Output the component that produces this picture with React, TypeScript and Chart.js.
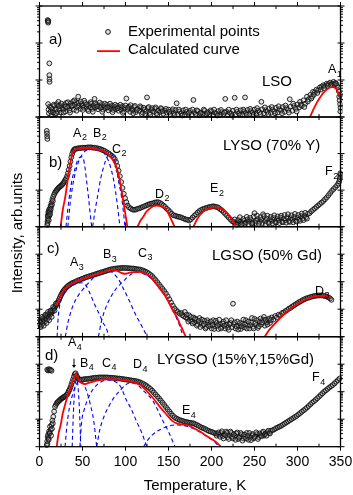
import React, { useEffect, useRef } from "react";
import { Chart, registerables } from "chart.js";
Chart.register(...registerables);

type P = [number, number];

// ---------------- data (x = temperature K, y = intensity in decade units of each panel) ----------------
const xTickLabels = [0, 50, 100, 150, 200, 250, 300, 350];

const expA: P[] = [
  [9.5, 2.62], [9.8, 2.58], [10.1, 2.55], [10.3, 2.6], [11.4, 1.45], [11.5, 1.13], [11.6, 1.02], [11.7, 0.95],
  [10, 0.35], [10.5, 0.2], [11, 0.1], [12, 0.28], [13, 0.15], [14, 0.05], [15, 0.22], [16, 0.12], [17, 0.3], [18, 0.08],
  [19, 0.2], [20, 0.35], [21, 0.14], [22, 0.41], [23, 0.22], [24, 0.3], [25, 0.12], [26, 0.27], [27.5, 0.2], [29, 0.33],
  [30, 0.15], [31, 0.38], [32.5, 0.25], [34, 0.3], [35, 0.18], [36, 0.36], [37.5, 0.28], [39, 0.42], [40, 0.2], [41, 0.33],
  [42.5, 0.4], [44, 0.26], [45, 0.55], [46, 0.3], [47.5, 0.22], [49, 0.36], [50, 0.3], [51.5, 0.25], [53, 0.38], [54.5, 0.28],
  [56, 0.2], [57.5, 0.33], [59, 0.26], [60, 0.36], [61.5, 0.22], [63, 0.3], [64, 0.49], [65, 0.26], [66.5, 0.34], [68, 0.21],
  [69.5, 0.3], [71, 0.25], [72.5, 0.35], [74, 0.2], [75.5, 0.29], [77, 0.24], [78.5, 0.33], [80, 0.18], [81.5, 0.28], [83, 0.22],
  [84.5, 0.31], [86, 0.19], [87.5, 0.27], [89, 0.21], [90.5, 0.3], [92, 0.17], [93.5, 0.26], [95, 0.2], [96.5, 0.29], [98, 0.15],
  [99.5, 0.24], [101, 0.5], [102.5, 0.2], [104, 0.28], [105.5, 0.14], [107, 0.23], [108.5, 0.18], [110, 0.27], [112, 0.13],
  [114, 0.22], [116, 0.17], [118, 0.26], [120, 0.12], [122, 0.2], [124, 0.16], [125, 0.53], [126, 0.24], [128, 0.11], [130, 0.19],
  [132, 0.15], [134, 0.23], [136, 0.1], [138, 0.18], [140, 0.13], [142, 0.22], [144, 0.09], [146, 0.17], [148, 0.12], [150, 0.2],
  [152, 0.08], [154, 0.16], [156, 0.11], [158, 0.19], [159.5, 0.37], [161, 0.07], [163, 0.15], [165, 0.1], [167, 0.18], [169, 0.06],
  [171, 0.14], [173, 0.09], [175, 0.17], [177, 0.07], [179, 0.46], [180, 0.13], [182, 0.08], [184, 0.16], [186, 0.05], [188, 0.12],
  [190, 0.09], [192, 0.17], [194, 0.06], [196, 0.13], [198, 0.08], [200, 0.15], [202, 0.05], [204, 0.12], [206, 0.09], [208, 0.16],
  [210, 0.06], [212, 0.13], [214, 0.08], [216, 0.49], [217, 0.15], [219, 0.06], [221, 0.12], [223, 0.09], [225, 0.17], [227, 0.52],
  [228, 0.07], [230, 0.14], [232, 0.1], [234, 0.18], [236, 0.07], [238, 0.15], [239, 0.53], [240, 0.11], [242, 0.19], [244, 0.08],
  [246, 0.16], [248, 0.12], [250, 0.2], [252, 0.09], [254, 0.17], [256, 0.13], [258, 0.41], [259, 0.21], [261, 0.1], [263, 0.18],
  [265, 0.14], [267, 0.23], [269, 0.11], [271, 0.2], [273, 0.15], [275, 0.25], [277, 0.12], [279, 0.21], [281, 0.17], [283, 0.27],
  [285, 0.14], [287, 0.24], [289, 0.19], [291, 0.48], [292, 0.28], [294, 0.17], [296, 0.3], [298, 0.22], [300, 0.34], [302, 0.26],
  [303, 0.41], [305, 0.3], [307, 0.45], [309, 0.36], [311, 0.55], [313, 0.48], [315, 0.6], [317, 0.55], [318, 0.68], [320, 0.66],
  [322, 0.74], [324, 0.72], [326, 0.8], [328, 0.82], [330, 0.86], [332, 0.84], [334, 0.9], [336, 0.89], [338, 0.93], [340, 0.9],
  [342, 0.95], [344, 0.92], [346, 0.85], [347, 0.8], [348, 0.7], [348.5, 0.55], [349, 0.45], [349.5, 0.35], [350, 0.25],
  [349.8, 0.15], [350, 0.6],
];
const expAExtra: P[] = [
  [13.5, 0.25], [16.5, 0.33], [19.5, 0.1], [22.5, 0.3], [25.5, 0.36], [28, 0.12], [30.5, 0.28], [33, 0.4], [35.5, 0.12],
  [38, 0.31], [40.5, 0.45], [43, 0.17], [45.5, 0.38], [48, 0.42], [50.5, 0.19], [52, 0.44], [55, 0.34], [57, 0.16],
  [59.5, 0.4], [62, 0.14], [64.5, 0.37], [67, 0.29], [70, 0.39], [73, 0.14], [76, 0.36], [79, 0.26], [82, 0.36], [85, 0.13],
  [88, 0.33], [91, 0.24], [94, 0.33], [97, 0.11], [100, 0.31], [103, 0.25], [106, 0.32], [109, 0.1], [111, 0.3], [113, 0.19],
  [117, 0.29], [119, 0.08], [121, 0.25], [123, 0.08], [127, 0.27], [129, 0.07], [131, 0.24], [135, 0.26], [137, 0.06],
  [141, 0.24], [143, 0.16], [147, 0.22], [151, 0.14], [155, 0.21], [157, 0.05], [162, 0.2], [166, 0.04], [170, 0.2],
  [174, 0.12], [178, 0.2], [183, 0.18], [187, 0.1], [191, 0.2], [195, 0.1], [199, 0.18], [203, 0.2], [207, 0.04],
  [211, 0.19], [215, 0.12], [220, 0.2], [224, 0.04], [229, 0.2], [233, 0.05], [237, 0.2], [241, 0.06], [245, 0.22],
  [249, 0.06], [253, 0.24], [257, 0.08], [262, 0.26], [266, 0.08], [270, 0.27], [274, 0.1], [278, 0.29], [282, 0.1],
  [286, 0.31], [290, 0.12], [295, 0.36], [299, 0.15], [304, 0.33], [308, 0.27], [312, 0.42], [316, 0.5], [319, 0.6],
  [323, 0.65], [327, 0.74], [331, 0.78], [335, 0.84], [339, 0.86], [343, 0.88], [345, 0.9],
];
const calcA1: P[] = [
  [314.5, 0], [318, 0.18], [322, 0.37], [326, 0.52], [330, 0.65], [334, 0.74], [338, 0.8], [341, 0.81], [344, 0.78],
  [347, 0.68], [349.5, 0.55],
];

const expB: P[] = [
  [8.5, 2.62], [8.7, 2.55], [8.9, 2.47], [9.1, 2.4],
  [9, 0.05], [9.3, 0.15], [9.6, 0.3], [9.9, 0.22], [10.2, 0.4], [10.5, 0.35], [11, 0.46], [11.5, 0.3], [12, 0.5], [12.5, 0.42],
  [13, 0.58], [13.5, 0.55], [14, 0.66], [15, 0.75], [16, 0.82], [17, 0.88], [18, 0.93], [19, 0.97], [20, 1.0], [21, 1.03],
  [22, 1.06], [23, 1.08], [24, 1.1], [25, 1.12], [26, 1.14], [27, 1.17], [28, 1.2], [29, 1.24], [30, 1.28], [31, 1.32],
  [32, 1.38], [33, 1.46], [34, 1.56], [35, 1.66], [36, 1.78], [37, 1.9], [38, 1.99], [39, 2.06], [40, 2.1], [41, 2.12],
  [42, 2.13], [44, 2.14], [46, 2.15], [48, 2.15], [50, 2.16], [52, 2.16], [54, 2.16], [56, 2.17], [58, 2.17], [60, 2.17],
  [62, 2.16], [64, 2.16], [66, 2.15], [68, 2.14], [70, 2.13], [72, 2.11], [74, 2.09], [76, 2.07], [78, 2.04], [80, 2.01],
  [82, 1.98], [84, 1.94], [86, 1.9], [87.5, 1.85], [89, 1.77], [90.5, 1.66], [92, 1.53], [93.5, 1.38], [95, 1.22], [96.5, 1.06],
  [98, 0.9], [99.5, 0.78], [101, 0.67], [102.5, 0.58], [104, 0.53], [106, 0.5], [108, 0.47], [110, 0.46], [112, 0.47],
  [114, 0.49], [116, 0.5], [118, 0.52], [120, 0.54], [122, 0.56], [124, 0.58], [126, 0.6], [128, 0.62], [130, 0.63],
  [132, 0.64], [134, 0.66], [136, 0.67], [138, 0.67], [140, 0.65], [142, 0.62], [144, 0.58], [146, 0.54], [148, 0.49],
  [150, 0.45], [152, 0.4], [154, 0.35], [156, 0.31], [158, 0.3], [160, 0.28], [162, 0.27], [164, 0.26], [166, 0.24],
  [168, 0.22], [170, 0.2], [172, 0.19], [174, 0.17], [176, 0.2], [178, 0.25], [180, 0.3], [182, 0.34], [184, 0.39],
  [186, 0.43], [188, 0.46], [190, 0.48], [192, 0.5], [194, 0.51], [196, 0.53], [198, 0.54], [200, 0.55], [202, 0.56],
  [204, 0.55], [206, 0.54], [208, 0.52], [210, 0.48], [212, 0.45], [214, 0.4], [216, 0.35], [218, 0.3], [220, 0.25],
  [222, 0.2], [224, 0.15], [226, 0.13], [228, 0.11], [230, 0.12], [232, 0.09], [234, 0.14], [236, 0.1], [238, 0.16],
  [240, 0.12], [242, 0.2], [244, 0.14], [246, 0.18], [248, 0.11], [250, 0.37], [252, 0.16], [254, 0.21], [256, 0.13],
  [258, 0.19], [260, 0.34], [262, 0.15], [264, 0.22], [266, 0.12], [268, 0.2], [270, 0.16], [272, 0.24], [274, 0.13],
  [276, 0.21], [278, 0.17], [280, 0.25], [282, 0.14], [284, 0.22], [286, 0.18], [288, 0.26], [290, 0.15], [292, 0.23],
  [294, 0.19], [296, 0.27], [298, 0.16], [300, 0.24], [302, 0.2], [304, 0.29], [306, 0.22], [308, 0.3], [310, 0.26],
  [312, 0.35], [314, 0.37], [316, 0.42], [318, 0.46], [320, 0.5], [322, 0.54], [324, 0.58], [326, 0.62], [328, 0.66],
  [330, 0.7], [332, 0.75], [334, 0.8], [336, 0.86], [338, 0.92], [340, 0.98], [342, 1.03], [344, 1.08], [346, 1.13],
  [347.5, 1.18], [348.5, 1.24], [349.2, 1.3], [349.6, 1.36], [350, 1.42], [349.8, 1.46],
];
const expBExtra: P[] = [
  [227, 0.2], [229, 0.05], [231, 0.18], [233, 0.26], [235, 0.06], [237, 0.21], [239, 0.08], [241, 0.27], [243, 0.07],
  [245, 0.24], [247, 0.09], [249, 0.28], [251, 0.1], [253, 0.3], [255, 0.08], [257, 0.26], [259, 0.1], [261, 0.29],
  [263, 0.07], [265, 0.3], [267, 0.1], [269, 0.27], [271, 0.09], [273, 0.31], [275, 0.11], [277, 0.28], [279, 0.1],
  [281, 0.3], [283, 0.12], [285, 0.32], [287, 0.11], [289, 0.34], [291, 0.13], [293, 0.31], [295, 0.12], [297, 0.35],
  [299, 0.14], [301, 0.32], [303, 0.16], [305, 0.36], [307, 0.18], [309, 0.38], [311, 0.22],
  [9.4, 0.1], [10, 0.28], [10.8, 0.18], [11.3, 0.4], [12.3, 0.34], [13.2, 0.48], [14.5, 0.6], [15.5, 0.7],
];
const calcB_ABC: P[] = [
  [24.6, 0], [27, 0.45], [29.7, 0.78], [32, 1.15], [34.7, 1.59], [36.5, 1.82], [38.2, 1.99], [41.3, 2.1], [45, 2.13],
  [50, 2.14], [58, 2.14], [66, 2.12], [74, 2.07], [80, 1.98], [86, 1.8], [90, 1.59], [93, 1.3], [95.6, 0.95], [97.5, 0.68],
  [99.4, 0.41], [101, 0.18], [102, 0],
];
const calcB_D: P[] = [
  [114, 0], [117, 0.15], [120.7, 0.27], [124, 0.4], [128.5, 0.5], [132, 0.56], [136.5, 0.58], [141, 0.56], [146, 0.5],
  [149, 0.4], [151.7, 0.27], [154.5, 0.13], [157, 0],
];
const calcB_E: P[] = [
  [179, 0], [182.5, 0.17], [186.6, 0.32], [190, 0.4], [194.4, 0.47], [199, 0.51], [204, 0.53], [209, 0.51], [213.7, 0.46],
  [218, 0.38], [221.5, 0.27], [225, 0.14], [228.5, 0],
];
const compB_A: P[] = [
  [30.8, 0], [33, 0.5], [35.5, 0.95], [38, 1.3], [41.3, 1.59], [44, 1.8], [47, 1.9], [49, 1.91], [51, 1.86], [53, 1.6],
  [54.9, 1.22], [57, 0.8], [58.7, 0.41], [60.7, 0],
];
const compB_B: P[] = [
  [33, 0], [36, 0.7], [40, 1.3], [45, 1.75], [51, 2.02], [57, 2.12], [63, 2.14], [69, 2.12], [75, 2.02], [81, 1.75],
  [86, 1.3], [90, 0.7], [93.5, 0],
];
const compB_C: P[] = [
  [61.8, 0], [65, 0.5], [68.4, 0.95], [71, 1.3], [74, 1.59], [77, 1.82], [80, 1.97], [83, 2.0], [86.5, 1.88], [89.8, 1.59],
  [92.5, 1.2], [95.6, 0.78], [97.5, 0.42], [99.4, 0],
];

const expC: P[] = [
  [0.3, 0.45], [1, 0.6], [1.8, 0.4], [2.5, 0.55], [3.2, 0.65], [4, 0.48], [4.8, 0.62], [5.5, 0.72], [6.2, 0.55], [7, 0.68],
  [7.8, 0.78], [8.5, 0.62], [9.2, 0.75], [10, 0.82], [10.8, 0.7], [11.5, 0.85], [12.3, 0.8], [13, 0.9], [13.8, 0.86],
  [14.5, 0.95], [15.3, 0.92], [16, 1.0], [17, 1.03], [18, 1.08], [19, 1.13], [20, 1.18], [21, 1.24], [22, 1.3], [23, 1.37],
  [24, 1.44], [25, 1.51], [26, 1.57], [27, 1.62], [28, 1.67], [29, 1.71], [30, 1.75], [31.5, 1.8], [33, 1.84], [34.5, 1.88],
  [36, 1.91], [37.5, 1.94], [39, 1.96], [41, 1.99], [43, 2.02], [45, 2.05], [47, 2.07], [49, 2.1], [51, 2.12], [53, 2.15],
  [55, 2.17], [57, 2.19], [59, 2.21], [61, 2.23], [63, 2.25], [65, 2.27], [67, 2.29], [69, 2.31], [71, 2.33], [73, 2.35],
  [75, 2.37], [77, 2.39], [79, 2.41], [81, 2.43], [83, 2.45], [85, 2.46], [87, 2.47], [89, 2.48], [91, 2.49], [93, 2.49],
  [95, 2.5], [97, 2.5], [99, 2.5], [101, 2.5], [103, 2.49], [105, 2.49], [107, 2.48], [109, 2.48], [111, 2.47], [113, 2.46],
  [115, 2.45], [117, 2.44], [119, 2.42], [121, 2.4], [123, 2.37], [125, 2.34], [127, 2.3], [129, 2.25], [131, 2.2],
  [133, 2.13], [135, 2.06], [137, 1.98], [139, 1.9], [141, 1.82], [143, 1.74], [145, 1.66], [147, 1.57], [149, 1.47],
  [151, 1.36], [153, 1.24], [155, 1.13], [157, 1.03], [159, 0.96], [161, 0.9], [163, 0.84], [165, 0.86], [166, 0.78],
  [168, 0.74], [169, 0.9], [170, 0.7], [172, 0.66], [174, 0.78], [175, 0.6], [177, 0.55], [179, 0.7], [180, 0.52],
  [182, 0.62], [184, 0.45], [186, 0.68], [188, 0.5], [190, 0.4], [192, 0.58], [194, 0.35], [196, 0.52], [198, 0.44],
  [200, 0.3], [202, 0.6], [204, 0.38], [206, 0.5], [208, 0.28], [210, 0.45], [212, 0.36], [214, 0.55], [216, 0.3],
  [218, 0.42], [220, 0.25], [222, 0.5], [224, 0.35], [225, 1.2], [226, 0.45], [228, 0.3], [230, 0.55], [232, 0.38],
  [234, 0.28], [236, 0.48], [238, 0.34], [240, 0.6], [242, 0.4], [244, 0.3], [246, 0.52], [248, 0.36], [250, 0.65],
  [252, 0.42], [254, 0.32], [256, 0.55], [258, 0.45], [260, 0.62], [262, 0.4], [264, 0.52], [266, 0.6], [268, 0.5],
  [270, 0.7], [272, 0.62], [274, 0.75], [276, 0.7], [278, 0.8], [280, 0.78], [282, 0.86], [284, 0.88], [286, 0.93],
  [288, 0.97], [290, 1.02], [292, 1.05], [294, 1.1], [296, 1.14], [298, 1.18], [300, 1.22], [302, 1.26], [304, 1.29],
  [306, 1.33], [308, 1.36], [310, 1.39], [312, 1.41], [314, 1.43], [316, 1.45], [318, 1.47], [320, 1.48], [322, 1.49],
  [324, 1.5], [326, 1.5], [328, 1.5], [330, 1.49], [332, 1.48], [334, 1.46], [336, 1.43], [338, 1.39], [339.5, 1.34],
];
const expCExtra: P[] = [
  [171, 0.8], [173, 0.55], [176, 0.72], [178, 0.48], [181, 0.66], [183, 0.4], [185, 0.58], [187, 0.35], [189, 0.62],
  [191, 0.46], [193, 0.3], [195, 0.6], [197, 0.38], [199, 0.55], [201, 0.42], [203, 0.28], [205, 0.58], [207, 0.4],
  [209, 0.62], [211, 0.3], [213, 0.48], [215, 0.4], [217, 0.6], [219, 0.33], [221, 0.45], [223, 0.6], [227, 0.52],
  [229, 0.38], [231, 0.26], [233, 0.5], [235, 0.38], [237, 0.62], [239, 0.45], [241, 0.3], [243, 0.55], [245, 0.42],
  [247, 0.68], [249, 0.3], [251, 0.5], [253, 0.6], [255, 0.38], [257, 0.66], [259, 0.52], [261, 0.72], [263, 0.62],
  [265, 0.44], [267, 0.66], [269, 0.6],
  [1.5, 0.35], [3, 0.72], [5, 0.4], [6.8, 0.8], [8.2, 0.5], [9.8, 0.9], [11.2, 0.6], [12.8, 0.95], [14.2, 0.72],
  [15.8, 1.08], [17.5, 0.95], [19, 1.2],
];
const calcC_ABC: P[] = [
  [20, 1.15], [24, 1.45], [28, 1.68], [31.6, 1.79], [36, 1.9], [42, 1.99], [47, 2.06], [55, 2.15], [62, 2.22], [70, 2.3],
  [78, 2.38], [84, 2.43], [90, 2.4], [95, 2.32], [99, 2.29], [104, 2.32], [110, 2.35], [116, 2.36], [122, 2.3],
  [128.5, 2.2], [134, 2.0], [140, 1.75], [148, 1.4], [151.7, 1.17], [155, 0.95], [159.5, 0.73], [163, 0.48],
  [166.5, 0.25], [170, 0],
];
const calcC_D: P[] = [
  [262, 0], [266, 0.2], [270, 0.35], [276, 0.55], [283, 0.78], [291, 1.0], [300, 1.2], [311, 1.37], [320, 1.46],
  [328, 1.49], [335, 1.46], [340, 1.41],
];
const compC_A: P[] = [
  [20.5, 0], [21.5, 0.6], [23, 1.05], [26, 1.42], [30, 1.66], [35, 1.82], [41, 1.92], [48, 1.96], [54, 1.86], [59, 1.55],
  [64, 1.18], [70, 0.79], [74, 0.5], [77.7, 0.3], [81, 0],
];
const compC_B: P[] = [
  [30, 0], [33, 0.5], [38, 1.05], [44, 1.45], [50, 1.7], [56, 1.92], [63, 2.15], [70, 2.3], [78, 2.38], [85, 2.33],
  [92, 2.08], [98, 1.72], [105, 1.27], [111, 0.85], [117, 0.5], [122, 0.2], [125.5, 0],
];
const compC_C: P[] = [
  [68.5, 0], [72, 0.55], [77, 1.05], [83, 1.45], [90, 1.78], [97, 2.0], [105, 2.24], [113, 2.35], [120, 2.3],
  [128, 2.17], [134, 1.98], [140, 1.74], [148, 1.38], [154, 1.05], [159, 0.7], [163, 0.4], [167, 0],
];

const expD: P[] = [
  [9, 2.8], [10, 2.77], [11, 2.82], [12, 2.78], [13, 2.8], [14, 2.76],
  [8.4, 0.06], [9, 0.2], [9.5, 0.35], [10, 0.43], [10.5, 0.3], [11, 0.55], [11.5, 0.48], [12.2, 0.73], [13, 0.62],
  [14, 0.79], [15, 0.95], [16, 1.09], [17, 1.28], [18, 1.45], [19, 1.52], [20, 1.58], [21, 1.62], [22, 1.64], [23, 1.68],
  [24, 1.7], [25, 1.74], [26, 1.76], [27, 1.78], [28, 1.8], [29, 1.82], [30, 1.84], [31, 1.87], [32, 1.9], [33, 1.95],
  [34, 2.02], [35, 2.08], [36, 2.16], [37, 2.25], [38, 2.35], [39, 2.45], [40, 2.55], [41, 2.64], [42, 2.67], [43, 2.58],
  [44, 2.52], [45, 2.48], [46, 2.45], [47, 2.44], [49, 2.44], [51, 2.45], [53, 2.46], [55, 2.46], [57, 2.47], [59, 2.48],
  [61, 2.49], [63, 2.5], [65, 2.51], [67, 2.51], [69, 2.52], [71, 2.52], [73, 2.52], [75, 2.52], [77, 2.52], [79, 2.52],
  [81, 2.51], [83, 2.51], [85, 2.5], [87, 2.5], [89, 2.49], [91, 2.48], [93, 2.48], [95, 2.47], [97, 2.46], [99, 2.45],
  [101, 2.44], [103, 2.43], [105, 2.42], [107, 2.41], [109, 2.4], [111, 2.39], [113, 2.38], [115, 2.36], [117, 2.34],
  [119, 2.31], [121, 2.28], [123, 2.24], [125, 2.2], [127, 2.15], [129, 2.1], [131, 2.04], [133, 1.97], [135, 1.9],
  [137, 1.83], [139, 1.76], [141, 1.68], [143, 1.6], [145, 1.52], [147, 1.44], [149, 1.36], [151, 1.28], [153, 1.2],
  [155, 1.13], [157, 1.07], [159, 1.03], [161, 1.0], [163, 0.97], [165, 0.95], [167, 0.93], [169, 0.91], [171, 0.9],
  [173, 0.88], [175, 0.87], [177, 0.86], [179, 0.85], [181, 0.82], [183, 0.79], [185, 0.76], [187, 0.72], [189, 0.69],
  [191, 0.67], [193, 0.64], [195, 0.6], [197, 0.57], [199, 0.55], [201, 0.53], [203, 0.5], [205, 0.48], [207, 0.46],
  [209, 0.44], [211, 0.5], [213, 0.38], [215, 0.46], [217, 0.55], [219, 0.35], [221, 0.42], [223, 0.5], [225, 0.3],
  [227, 0.4], [229, 0.48], [231, 0.28], [233, 0.38], [235, 0.45], [237, 0.3], [239, 0.36], [241, 0.5], [243, 0.25],
  [245, 0.33], [247, 0.42], [249, 0.3], [251, 0.38], [253, 0.46], [255, 0.35], [257, 0.42], [259, 0.5], [261, 0.4],
  [263, 0.48], [265, 0.53], [267, 0.5], [269, 0.58], [271, 0.6], [273, 0.63], [275, 0.67], [277, 0.7], [279, 0.73],
  [281, 0.76], [283, 0.8], [285, 0.84], [287, 0.88], [289, 0.92], [291, 0.96], [293, 1.0], [295, 1.04], [297, 1.08],
  [299, 1.12], [301, 1.17], [303, 1.22], [305, 1.27], [307, 1.32], [309, 1.37], [311, 1.42], [313, 1.48], [315, 1.54],
  [317, 1.6], [319, 1.65], [321, 1.7], [323, 1.76], [325, 1.82], [327, 1.88], [329, 1.94], [331, 2.0], [333, 2.05],
  [335, 2.1], [337, 2.15], [339, 2.2], [341, 2.24], [343, 2.3], [345, 2.36], [347, 2.42], [349, 2.48],
];
const expDExtra: P[] = [
  [206, 0.4], [208, 0.52], [210, 0.36], [212, 0.56], [214, 0.3], [216, 0.42], [218, 0.5], [220, 0.28], [222, 0.55],
  [224, 0.36], [226, 0.46], [228, 0.25], [230, 0.52], [232, 0.33], [234, 0.5], [236, 0.22], [238, 0.44], [240, 0.3],
  [242, 0.4], [244, 0.5], [246, 0.24], [248, 0.46], [250, 0.35], [252, 0.52], [254, 0.28], [256, 0.48], [258, 0.38],
  [260, 0.55], [262, 0.45], [264, 0.4], [266, 0.58], [268, 0.48],
  [9.2, 0.1], [10.8, 0.25], [12, 0.5], [13.5, 0.4], [14.5, 0.65], [15.5, 0.85],
];
const calcD: P[] = [
  [20, 0], [22, 0.45], [24.6, 0.79], [27, 1.2], [29.7, 1.52], [33, 1.88], [37.4, 2.25], [40, 2.48], [42.4, 2.64],
  [44, 2.56], [46, 2.4], [50, 2.3], [53, 2.28], [57, 2.32], [62.6, 2.37], [70, 2.42], [82, 2.46], [92, 2.44], [101.4, 2.4],
  [110, 2.33], [117, 2.25], [124, 2.05], [132, 1.77], [140, 1.45], [148, 1.16], [154, 0.95], [159.5, 0.85], [165, 0.81],
  [171, 0.79], [178, 0.7], [186.6, 0.55], [194, 0.4], [202, 0.24], [207, 0.12], [211, 0],
];
const compD_A: P[] = [[38, 0], [39.5, 1.3], [41, 2.1], [43, 2.45], [45, 2.1], [46.5, 1.3], [48, 0]];
const compD_B: P[] = [
  [29.7, 0], [32, 0.8], [35, 1.45], [39, 1.95], [43, 2.28], [47, 2.38], [51, 2.3], [55, 2.0], [59, 1.55], [63, 0.95],
  [66.5, 0],
];
const compD_C: P[] = [
  [47, 0], [48, 0.5], [49, 0.91], [52, 1.35], [55, 1.64], [60, 1.98], [66.5, 2.24], [73, 2.38], [80, 2.43], [87, 2.38],
  [94, 2.2], [101, 1.7], [107, 1.35], [113, 0.91], [119, 0.5], [124.7, 0],
];
const compD_D: P[] = [
  [66.5, 0], [70, 0.6], [75, 1.1], [82, 1.55], [88, 1.85], [94, 2.05], [100, 2.25], [106, 2.32], [114, 2.25], [122, 2.0],
  [128, 1.82], [132.4, 1.64], [138, 1.3], [144, 0.91], [150, 0.55], [157.5, 0],
];
const compD_E: P[] = [
  [121, 0], [126, 0.25], [132, 0.45], [140, 0.62], [150, 0.75], [158, 0.79], [165, 0.78], [172, 0.74], [180, 0.64],
  [188, 0.5], [196, 0.34], [204, 0.16], [209, 0],
];

// ---------------- layout / styles ----------------
const W = 353;
const H = 495;
const PLOT_LEFT = 39.5;
const PLOT_RIGHT = 340.5;
const FONT = '"Liberation Sans", Arial, sans-serif';

type Lab = { t: string; s?: string; x: number; y: number; big?: boolean };

const panels = [
  {
    top: 6, bottom: 117, ymax: 3, exp: expA.concat(expAExtra), calc: [calcA1], comps: [] as P[][],
    labels: [
      { t: "a)", x: 11, y: 2.08, big: true },
      { t: "LSO", x: 258.7, y: 0.95, big: true },
      { t: "A", s: "1", x: 335.5, y: 1.27 },
    ] as Lab[],
  },
  {
    top: 117, bottom: 226.7, ymax: 3, exp: expB.concat(expBExtra), calc: [calcB_ABC, calcB_D, calcB_E],
    comps: [compB_A, compB_B, compB_C],
    labels: [
      { t: "b)", x: 11, y: 1.74, big: true },
      { t: "LYSO (70% Y)", x: 213.4, y: 2.21, big: true },
      { t: "A", s: "2", x: 39, y: 2.56 },
      { t: "B", s: "2", x: 62.2, y: 2.56 },
      { t: "C", s: "2", x: 84.3, y: 2.12 },
      { t: "D", s: "2", x: 134.3, y: 0.89 },
      { t: "E", s: "2", x: 198.3, y: 1.03 },
      { t: "F", s: "2", x: 332, y: 1.5 },
    ] as Lab[],
  },
  {
    top: 226.7, bottom: 336.7, ymax: 4, exp: expC.concat(expCExtra), calc: [calcC_ABC, calcC_D],
    comps: [compC_A, compC_B, compC_C],
    labels: [
      { t: "c)", x: 8.7, y: 3.19, big: true },
      { t: "LGSO (50% Gd)", x: 200.6, y: 2.93, big: true },
      { t: "A", s: "3", x: 35.5, y: 2.68 },
      { t: "B", s: "3", x: 73.8, y: 2.97 },
      { t: "C", s: "3", x: 114.5, y: 3.04 },
      { t: "D", s: "3", x: 320.3, y: 1.66 },
    ] as Lab[],
  },
  {
    top: 336.7, bottom: 446.7, ymax: 4, exp: expD.concat(expDExtra), calc: [calcD],
    comps: [compD_A, compD_B, compD_C, compD_D, compD_E],
    labels: [
      { t: "d)", x: 6.4, y: 3.3, big: true },
      { t: "LYGSO (15%Y,15%Gd)", x: 136.6, y: 3.15, big: true },
      { t: "A", s: "4", x: 33.1, y: 3.77 },
      { t: "B", s: "4", x: 47.1, y: 3.04 },
      { t: "C", s: "4", x: 72.7, y: 3.04 },
      { t: "D", s: "4", x: 108.7, y: 2.97 },
      { t: "E", s: "4", x: 165.7, y: 1.3 },
      { t: "F", s: "4", x: 316.9, y: 2.5 },
    ] as Lab[],
  },
];

const POINT_BORDER = "#111";
const POINT_FILL = "rgba(130,130,130,0.25)";

function toXY(arr: P[]) {
  return arr.map(([x, y]) => ({ x, y }));
}

function makePlugin(panel: any, idx: number) {
  return {
    id: "frame" + idx,
    afterDraw(chart: any) {
      const ctx = chart.ctx as CanvasRenderingContext2D;
      const xs = chart.scales.x;
      const ys = chart.scales.y;
      const L = chart.chartArea.left;
      const R = chart.chartArea.right;
      const T = chart.chartArea.top;
      const B = chart.chartArea.bottom;
      const line = (x1: number, y1: number, x2: number, y2: number) => {
        ctx.beginPath();
        ctx.moveTo(x1, y1);
        ctx.lineTo(x2, y2);
        ctx.stroke();
      };
      ctx.save();
      ctx.strokeStyle = "#000";
      ctx.lineWidth = 1;
      for (let t = 0; t <= 350; t += 25) {
        const px = xs.getPixelForValue(t);
        if (t % 50 === 0) {
          line(px, T, px, T - 4);
          line(px, B, px, B + 4);
        } else {
          line(px, T, px, T + 3);
          line(px, B, px, B - 3);
        }
      }
      for (let k = 0; k <= panel.ymax; k++) {
        const py = ys.getPixelForValue(k);
        line(L - 4, py, L + 3, py);
        line(R - 3, py, R + 4, py);
        if (k < panel.ymax) {
          for (let m = 2; m <= 9; m++) {
            const pm = ys.getPixelForValue(k + Math.log10(m));
            line(L - 2.5, pm, L, pm);
            line(R, pm, R + 2.5, pm);
          }
        }
      }
      ctx.lineWidth = 1.3;
      ctx.strokeRect(L, T, R - L, B - T);

      ctx.fillStyle = "#000";
      ctx.textBaseline = "middle";
      ctx.textAlign = "left";
      for (const lab of panel.labels as Lab[]) {
        const px = xs.getPixelForValue(lab.x);
        const py = ys.getPixelForValue(lab.y);
        ctx.font = (lab.big ? "15px " : "12.5px ") + FONT;
        ctx.fillText(lab.t, px, py);
        if (lab.s) {
          const w = ctx.measureText(lab.t).width;
          ctx.font = "9px " + FONT;
          ctx.fillText(lab.s, px + w + 0.5, py + 4.5);
        }
      }

      if (idx === 0) {
        const mx = xs.getPixelForValue(79.7);
        const my = ys.getPixelForValue(2.3);
        ctx.beginPath();
        ctx.arc(mx, my, 2.4, 0, Math.PI * 2);
        ctx.fillStyle = POINT_FILL;
        ctx.fill();
        ctx.strokeStyle = POINT_BORDER;
        ctx.lineWidth = 1;
        ctx.stroke();
        ctx.strokeStyle = "#ff0000";
        ctx.lineWidth = 1.8;
        const ly = ys.getPixelForValue(1.78);
        line(xs.getPixelForValue(66.9), ly, xs.getPixelForValue(93.6), ly);
        ctx.fillStyle = "#000";
        ctx.font = "15px " + FONT;
        ctx.fillText("Experimental points", xs.getPixelForValue(102.9), my);
        ctx.fillText("Calculated curve", xs.getPixelForValue(102.9), ys.getPixelForValue(1.81));
      }

      if (idx === 3) {
        const ax = xs.getPixelForValue(40.1);
        const ay1 = ys.getPixelForValue(3.2);
        const ay2 = ys.getPixelForValue(2.86);
        ctx.strokeStyle = "#000";
        ctx.lineWidth = 1;
        line(ax, ay1, ax, ay2 - 2);
        ctx.beginPath();
        ctx.moveTo(ax - 2, ay2 - 3);
        ctx.lineTo(ax + 2, ay2 - 3);
        ctx.lineTo(ax, ay2);
        ctx.closePath();
        ctx.fillStyle = "#000";
        ctx.fill();

        ctx.font = "14px " + FONT;
        ctx.textAlign = "center";
        for (const v of xTickLabels) {
          ctx.fillText(String(v), xs.getPixelForValue(v), B + 15.5);
        }
        ctx.font = "15px " + FONT;
        ctx.fillText("Temperature, K", (L + R) / 2 + 5, B + 39);

        ctx.save();
        ctx.translate(18, 233);
        ctx.rotate(-Math.PI / 2);
        ctx.textAlign = "center";
        ctx.fillText("Intensity, arb.units", 0, 0);
        ctx.restore();
      }
      ctx.restore();
    },
  };
}

function buildConfig(panel: any, idx: number): any {
  const datasets: any[] = [];
  for (const c of panel.calc) {
    datasets.push({
      data: toXY(c),
      showLine: true,
      pointRadius: 0,
      borderColor: "#ff0000",
      borderWidth: 1.8,
      cubicInterpolationMode: "monotone",
      order: 0,
      clip: 0,
    });
  }
  for (const c of panel.comps) {
    datasets.push({
      data: toXY(c),
      showLine: true,
      pointRadius: 0,
      borderColor: "#0000ff",
      borderWidth: 1.1,
      borderDash: [4, 3],
      cubicInterpolationMode: "monotone",
      order: 1,
      clip: 0,
    });
  }
  datasets.push({
    data: toXY(panel.exp),
    showLine: false,
    pointRadius: 2.4,
    pointStyle: "circle",
    borderColor: POINT_BORDER,
    backgroundColor: POINT_FILL,
    borderWidth: 0.9,
    order: 2,
    clip: 2,
  });
  return {
    type: "scatter",
    data: { datasets },
    options: {
      responsive: false,
      animation: false,
      devicePixelRatio: 1,
      events: [],
      layout: {
        padding: { left: PLOT_LEFT, right: W - PLOT_RIGHT, top: panel.top, bottom: H - panel.bottom },
      },
      scales: {
        x: { type: "linear", min: 0, max: 350, display: false },
        y: { type: "linear", min: 0, max: panel.ymax, display: false },
      },
      plugins: { legend: { display: false }, tooltip: { enabled: false } },
    },
    plugins: [makePlugin(panel, idx)],
  };
}

export default function App() {
  const r0 = useRef<HTMLCanvasElement>(null);
  const r1 = useRef<HTMLCanvasElement>(null);
  const r2 = useRef<HTMLCanvasElement>(null);
  const r3 = useRef<HTMLCanvasElement>(null);
  const refs = [r0, r1, r2, r3];

  useEffect(() => {
    const charts = panels.map((p, i) => new Chart(refs[i].current as HTMLCanvasElement, buildConfig(p, i)));
    return () => charts.forEach((c) => c.destroy());
  }, []);

  return (
    <div style={{ position: "fixed", left: 0, top: 0, width: W, height: H, background: "#fff", overflow: "hidden" }}>
      {panels.map((p, i) => (
        <canvas
          key={i}
          ref={refs[i]}
          width={W}
          height={H}
          style={{ position: "absolute", left: 0, top: 0, width: W, height: H }}
        />
      ))}
    </div>
  );
}
